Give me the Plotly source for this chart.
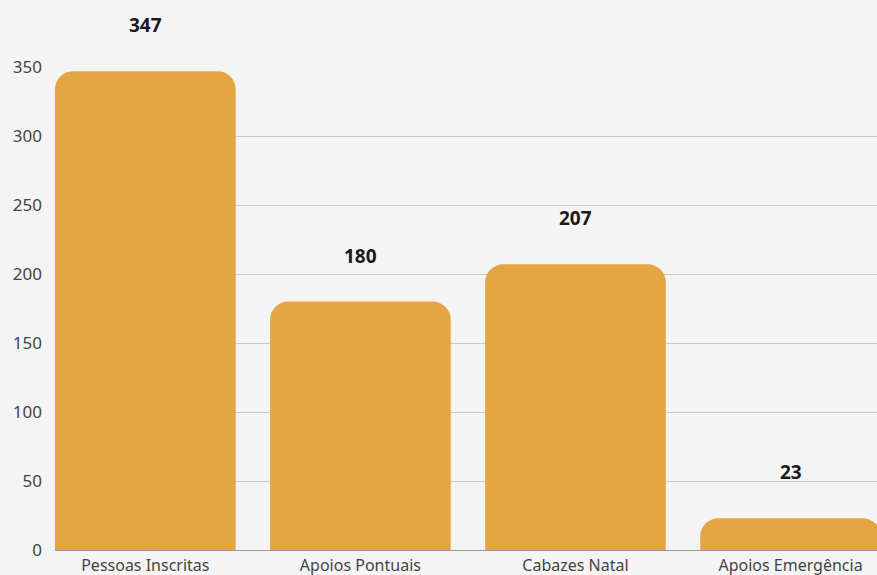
import plotly.graph_objects as go

categories = ["Pessoas Inscritas", "Apoios Pontuais", "Cabazes Natal", "Apoios Emergência"]
values = [347, 180, 207, 23]
y_ticks = [0, 50, 100, 150, 200, 250, 300, 350]

fig = go.Figure()
fig.add_trace(go.Bar(
    x=list(range(len(categories))),
    y=values,
    width=0.84,
    marker=dict(color="#E6A543", line=dict(width=0)),
    hoverinfo="x+y",
))

for i, v in enumerate(values):
    fig.add_annotation(
        x=i, y=v, text=f"<b>{v}</b>", showarrow=False,
        yshift=46, font=dict(size=19, color="#1a1a1a", family="Noto Sans"),
        yanchor="middle",
    )

fig.update_layout(
    width=877, height=575,
    margin=dict(l=55, r=0, t=67, b=25),
    paper_bgcolor="#f4f4f4", plot_bgcolor="#f4f4f4",
    barcornerradius=18,
    showlegend=False,
    font=dict(family="Noto Sans", size=16, color="#444"),
    xaxis=dict(
        range=[-0.42, 3.402],
        tickvals=list(range(len(categories))),
        ticktext=categories,
        showgrid=False, zeroline=False,
        showline=True, linecolor="#999", linewidth=1,
        ticks="", ticklabelstandoff=1,
        tickfont=dict(size=16, color="#444"),
    ),
    yaxis=dict(
        range=[0, 350],
        tickvals=y_ticks,
        showgrid=True, gridcolor="#c8c8c8", gridwidth=1,
        zeroline=False, showline=False,
        ticks="", ticklabelstandoff=12,
        tickfont=dict(size=17, color="#444"),
    ),
)

fig.write_html("out.html", config={"displayModeBar": False},
               post_script="document.body.style.margin='0';")
